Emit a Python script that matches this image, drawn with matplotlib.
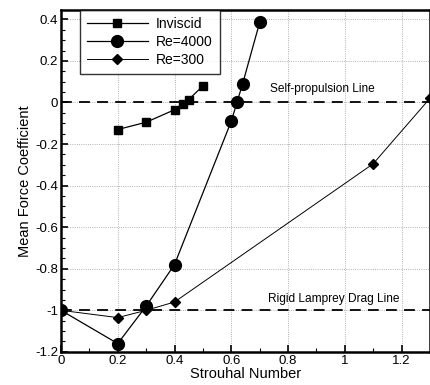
import matplotlib.pyplot as plt
from matplotlib.ticker import MultipleLocator

plt.rcParams['font.family'] = ['Liberation Sans', 'DejaVu Sans']

inviscid_st = [0.2, 0.3, 0.4, 0.43, 0.45, 0.5]
inviscid_cf = [-0.13, -0.095, -0.035, -0.008, 0.014, 0.08]

re4000_st = [0.0, 0.2, 0.3, 0.4, 0.6, 0.62, 0.64, 0.7]
re4000_cf = [-1.0, -1.16, -0.98, -0.78, -0.09, 0.0, 0.09, 0.385]

re300_st = [0.0, 0.2, 0.3, 0.4, 1.1, 1.3]
re300_cf = [-1.0, -1.035, -1.0, -0.96, -0.295, 0.02]

fig = plt.figure(figsize=(4.31, 3.85), dpi=100)
ax = fig.add_axes([0.1415, 0.086, 0.856, 0.888])

ax.axhline(0, color='black', lw=1.3, ls=(0, (6, 4)), zorder=2)
ax.axhline(-1, color='black', lw=1.3, ls=(0, (6, 4)), zorder=2)

ax.plot(inviscid_st, inviscid_cf, color='black', lw=0.9, marker='s', ms=6, label='Inviscid', zorder=3)
ax.plot(re4000_st, re4000_cf, color='black', lw=0.9, marker='o', ms=8.5, label='Re=4000', zorder=3)
ax.plot(re300_st, re300_cf, color='black', lw=0.7, marker='D', ms=5, label='Re=300', zorder=3)

ax.text(0.92, 0.035, 'Self-propulsion Line', fontsize=8.6, ha='center', va='bottom')
ax.text(0.96, -0.975, 'Rigid Lamprey Drag Line', fontsize=8.6, ha='center', va='bottom')

ax.set_xlim(0, 1.3)
ax.set_ylim(-1.2, 0.445)
ax.xaxis.set_minor_locator(MultipleLocator(0.1))
ax.yaxis.set_minor_locator(MultipleLocator(0.05))
ax.set_xticks([0, 0.2, 0.4, 0.6, 0.8, 1.0, 1.2])
ax.set_xticklabels(['0', '0.2', '0.4', '0.6', '0.8', '1', '1.2'])
ax.set_yticks([-1.2, -1.0, -0.8, -0.6, -0.4, -0.2, 0, 0.2, 0.4])
ax.set_yticklabels(['-1.2', '-1', '-0.8', '-0.6', '-0.4', '-0.2', '0', '0.2', '0.4'])
ax.grid(True, which='major', color='#999999', lw=0.6, ls=':')
ax.tick_params(which='major', direction='in', length=5, width=1.2, labelsize=9.5, pad=2)
ax.tick_params(which='minor', direction='in', length=3, width=0.8)
for s in ax.spines.values():
    s.set_linewidth(1.8)

ax.set_xlabel('Strouhal Number', fontsize=10.5, labelpad=0)
ax.set_ylabel('Mean Force Coefficient', fontsize=10.5, labelpad=2)

leg = ax.legend(loc='upper left', bbox_to_anchor=(0.051, 1.0), fontsize=10, frameon=True,
                fancybox=False, edgecolor='black', borderpad=0.5, handlelength=4.4,
                labelspacing=0.3, handletextpad=0.6, borderaxespad=0)
leg.get_frame().set_linewidth(1.0)

fig.savefig('out.png', dpi=100)
